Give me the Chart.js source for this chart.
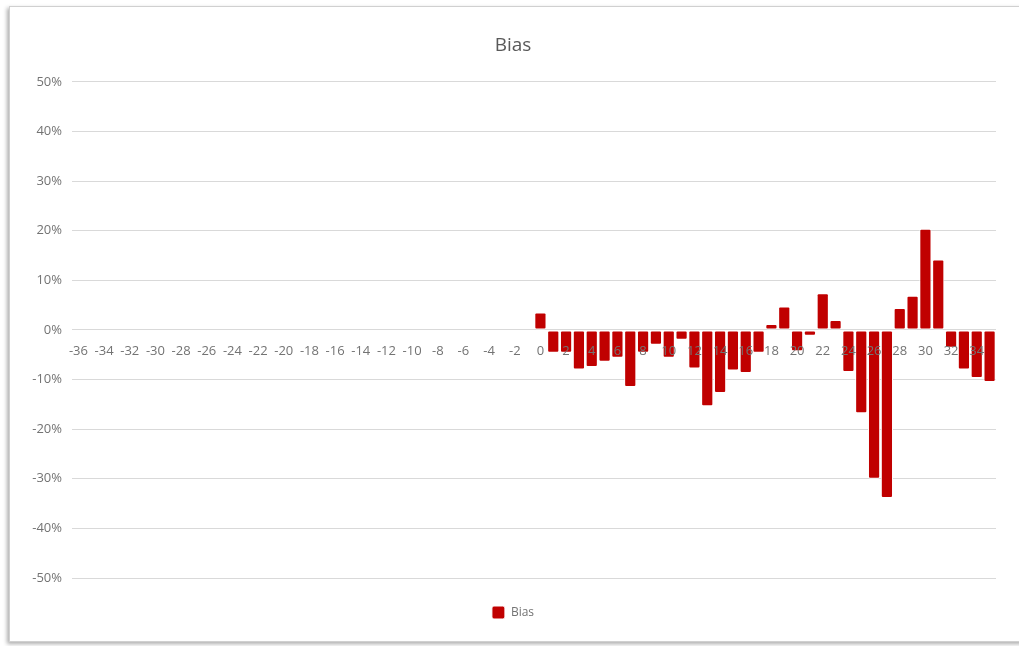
<!DOCTYPE html>
<html>
<head>
<meta charset="utf-8">
<title>Bias</title>
<script src="https://cdn.jsdelivr.net/npm/chart.js@4/dist/chart.umd.min.js"></script>
<style>
  html, body { margin: 0; padding: 0; background: #ffffff; overflow: hidden; }
  #frame {
    position: absolute; left: 9px; top: 6px; right: -10px; bottom: 4px;
    border: 1px solid #d0d0d0;
    box-shadow: -2px 2px 4px rgba(0,0,0,0.32);
    background: #ffffff;
  }
  #chart { position: absolute; left: 0; top: 0; }
</style>
</head>
<body>
<div id="frame"></div>
<canvas id="chart" width="1019" height="646" style="width:1019px;height:646px"></canvas>
<script>
// Offsets from -36 to 35; only 0..35 carry a bias value
const offsets = [];
for (let k = -36; k <= 35; k++) offsets.push(k);

const biasFrom0 = [
  3.5, -4.6, -4.6, -8.0, -7.5, -6.4, -5.6, -11.5, -4.6, -3.0,
  -5.6, -2.0, -7.8, -15.4, -12.7, -8.2, -8.7, -4.6, 1.2, 4.7,
  -4.3, -1.2, 7.4, 2.0, -8.5, -16.8, -30.0, -33.9, 4.4, 6.9,
  20.4, 14.2, -3.6, -8.0, -9.7, -10.5
];

const yTicks = [-50, -40, -30, -20, -10, 0, 10, 20, 30, 40, 50];

const emptyBefore = new Array(36).fill(null);
const biasValues = emptyBefore.concat(biasFrom0);

const FONT = "'Open Sans', 'Liberation Sans', sans-serif";
const TEXT = '#737373';
const GRID = '#d9d9d9';
const RED = '#c00000';

new Chart(document.getElementById('chart'), {
  type: 'bar',
  data: {
    labels: offsets.map(String),
    datasets: [{
      label: 'Bias',
      data: biasValues,
      backgroundColor: RED,
      borderColor: '#ffffff',
      borderWidth: 1,
      borderSkipped: false,
      borderRadius: 2,
      barPercentage: 0.95,
      categoryPercentage: 1.0
    }]
  },
  options: {
    responsive: false,
    animation: false,
    devicePixelRatio: 1,
    layout: { padding: { left: 30, right: 23, top: 0, bottom: 17 } },
    plugins: {
      title: {
        display: true,
        text: 'Bias',
        color: '#595959',
        font: { family: FONT, size: 19, weight: 'normal' },
        padding: { top: 34, bottom: 25 }
      },
      legend: {
        position: 'bottom',
        labels: {
          color: TEXT,
          font: { family: FONT, size: 12 },
          boxWidth: 13,
          boxHeight: 13,
          padding: 28,
          useBorderRadius: true,
          borderRadius: 2
        }
      },
      tooltip: { enabled: false }
    },
    scales: {
      x: {
        position: { y: 0 },
        grid: { display: false, drawTicks: false },
        border: { display: false },
        ticks: {
          z: 1,
          autoSkip: false,
          maxRotation: 0,
          minRotation: 0,
          padding: 14,
          color: TEXT,
          font: { family: FONT, size: 13 },
          callback: function (value, index) {
            return index % 2 === 0 ? this.getLabelForValue(value) : '';
          }
        }
      },
      y: {
        min: -50,
        max: 50,
        afterBuildTicks: (scale) => { scale.ticks = yTicks.map(v => ({ value: v })); },
        afterFit: (scale) => { scale.width = 42; },
        grid: { color: GRID, lineWidth: 1, drawTicks: false },
        border: { display: false },
        ticks: {
          padding: 10,
          color: TEXT,
          font: { family: FONT, size: 13 },
          callback: (v) => v + '%'
        }
      }
    }
  }
});
</script>
</body>
</html>
